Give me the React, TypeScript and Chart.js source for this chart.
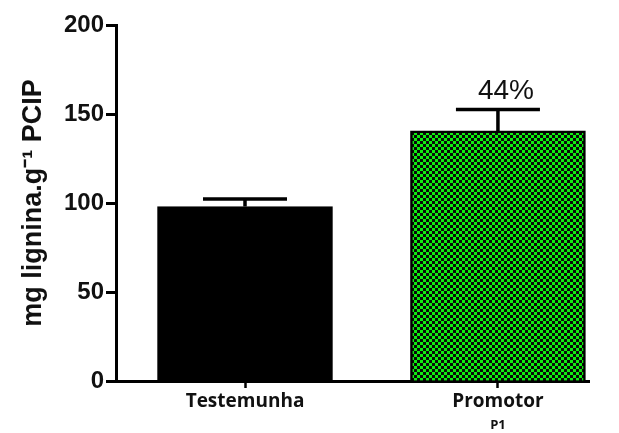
import React, { useEffect, useRef } from "react";
import { Chart, registerables } from "chart.js";

Chart.register(...registerables);

const categories = ["Testemunha", "Promotor"];
const categorySubs = ["", "P1"];
const means = [98, 140.5];
const errUpper = [102.3, 152.5];
const barLabels = ["", "44%"];
const yTicks = [0, 50, 100, 150, 200];

function makePattern(): CanvasPattern | string {
  const c = document.createElement("canvas");
  c.width = 6;
  c.height = 6;
  const g = c.getContext("2d");
  if (!g) return "#1be01b";
  g.fillStyle = "#0a0a0a";
  g.fillRect(0, 0, 6, 6);
  g.fillStyle = "#10ee10";
  g.fillRect(0, 0, 3, 3);
  g.fillRect(3, 3, 3, 3);
  const p = g.createPattern(c, "repeat");
  return p || "#1be01b";
}

const extrasPlugin = {
  id: "extras",
  afterDatasetsDraw(chart: any) {
    const ctx = chart.ctx;
    const xs = chart.scales.x;
    const ys = chart.scales.y;
    ctx.save();
    ctx.strokeStyle = "#000";
    ctx.lineWidth = 3.5;
    means.forEach((m, i) => {
      const x = xs.getPixelForValue(i + 1);
      const yTop = ys.getPixelForValue(errUpper[i]);
      const yBar = ys.getPixelForValue(m);
      ctx.beginPath();
      ctx.moveTo(x, yBar);
      ctx.lineTo(x, yTop);
      ctx.moveTo(x - 42, yTop);
      ctx.lineTo(x + 42, yTop);
      ctx.stroke();
      if (barLabels[i]) {
        ctx.fillStyle = "#111";
        ctx.font = "28px 'Liberation Sans', Arial, sans-serif";
        ctx.textAlign = "center";
        ctx.textBaseline = "alphabetic";
        ctx.fillText(barLabels[i], x + 8, yTop - 11);
      }
      if (categorySubs[i]) {
        ctx.fillStyle = "#111";
        ctx.font = "bold 13px 'Open Sans', sans-serif";
        ctx.textAlign = "center";
        ctx.textBaseline = "alphabetic";
        ctx.fillText(categorySubs[i], x, 429);
      }
    });
    ctx.restore();
  },
};

export default function App() {
  const ref = useRef<HTMLCanvasElement | null>(null);
  useEffect(() => {
    if (!ref.current) return;
    const pattern = makePattern();
    const chart = new Chart(ref.current, {
      type: "bar",
      data: {
        datasets: [
          {
            data: categories.map((c, i) => ({ x: i + 1, y: means[i] })),
            backgroundColor: ["#000", pattern] as any,
            borderColor: "#000",
            borderWidth: 2.5,
            borderSkipped: "bottom",
            barThickness: 175,
          },
        ],
      },
      options: {
        animation: false,
        responsive: false,
        maintainAspectRatio: false,
        layout: { padding: { top: 25, right: 30, left: 0, bottom: 0 } },
        plugins: { legend: { display: false }, tooltip: { enabled: false } },
        scales: {
          x: {
            type: "linear",
            min: 0.49,
            max: 2.36,
            bounds: "data",
            offset: false,
            afterBuildTicks: (s: any) => {
              s.ticks = categories.map((c, i) => ({ value: i + 1 }));
            },
            afterFit: (s: any) => {
              s.height = 52;
            },
            border: { color: "#000", width: 3 },
            grid: {
              offset: false,
              drawOnChartArea: false,
              drawTicks: true,
              tickLength: 7,
              tickWidth: 2.5,
              color: "#000",
            },
            ticks: {
              autoSkip: false,
              maxRotation: 0,
              padding: 2,
              color: "#111",
              font: { family: "'Open Sans', sans-serif", size: 19, weight: "bold" },
              callback: (v: any) => categories[Math.round(v) - 1] ?? "",
            },
          },
          y: {
            min: 0,
            max: 200,
            afterBuildTicks: (s: any) => {
              s.ticks = yTicks.map((v) => ({ value: v }));
            },
            afterFit: (s: any) => {
              s.width = 116;
            },
            border: { color: "#000", width: 3 },
            grid: {
              drawOnChartArea: false,
              drawTicks: true,
              tickLength: 10,
              tickWidth: 3,
              color: "#000",
            },
            ticks: {
              padding: 2,
              color: "#111",
              font: { family: "'Liberation Sans', Arial, sans-serif", size: 24, weight: "bold" },
            },
            title: {
              display: true,
              text: "mg lignina.g⁻¹ PCIP",
              color: "#111",
              padding: { top: 17, bottom: 0 },
              font: { family: "'Liberation Sans', Arial, sans-serif", size: 27, weight: "bold" },
            },
          },
        },
      },
      plugins: [extrasPlugin],
    });
    return () => chart.destroy();
  }, []);
  return (
    <div style={{ position: "fixed", left: 0, top: 0, width: 619, height: 433, background: "#fff" }}>
      <canvas ref={ref} width={619} height={433} style={{ width: 619, height: 433 }} />
    </div>
  );
}
